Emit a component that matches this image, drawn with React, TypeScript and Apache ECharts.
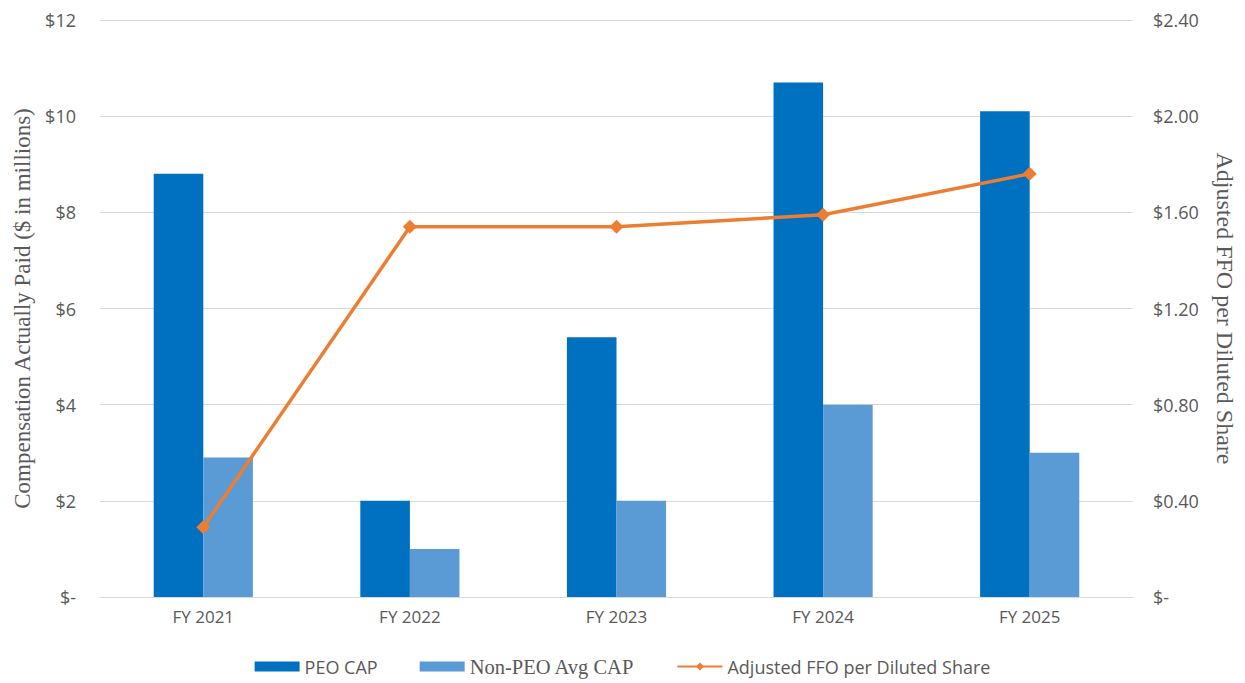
import React, { useEffect, useRef } from "react";
import * as echarts from "echarts";

const categories = ["FY 2021", "FY 2022", "FY 2023", "FY 2024", "FY 2025"];
const peoCap = [8.8, 2.0, 5.4, 10.7, 10.1];
const nonPeoCap = [2.9, 1.0, 2.0, 4.0, 3.0];
const ffoPerShare = [0.29, 1.54, 1.54, 1.59, 1.76];

const leftAxisName = "Compensation Actually Paid ($ in millions)";
const rightAxisName = "Adjusted FFO per Diluted Share";

export default function App() {
  const ref = useRef<HTMLDivElement>(null);
  useEffect(() => {
    if (!ref.current) return;
    const chart = echarts.init(ref.current, null, { renderer: "svg" });
    const labelColor = "#595959";
    const tickFont = "'Open Sans', 'Noto Sans', sans-serif";
    const serifFont = "'Liberation Serif', 'DejaVu Serif', serif";
    chart.setOption({
      animation: false,
      backgroundColor: "#ffffff",
      grid: { left: 100, right: 105, top: 20, bottom: 86, containLabel: false },
      legend: {
        top: 651,
        left: "center",
        itemWidth: 45,
        itemHeight: 10,
        itemGap: 42,
        formatter: (name: string) =>
          name === "Non-PEO Avg CAP" ? "{s|" + name + "}" : "{n|" + name + "}",
        textStyle: {
          color: labelColor,
          fontSize: 18,
          fontFamily: tickFont,
          rich: {
            n: { color: labelColor, fontSize: 18, fontFamily: tickFont },
            s: { color: labelColor, fontSize: 20.5, fontFamily: serifFont },
          },
        },
        data: [
          { name: "PEO CAP", icon: "rect" },
          { name: "Non-PEO Avg CAP", icon: "rect" },
          { name: "Adjusted FFO per Diluted Share" },
        ],
      },
      xAxis: {
        type: "category",
        data: categories,
        axisLine: { show: true, lineStyle: { color: "#d9d9d9" } },
        axisTick: { show: false },
        axisLabel: { color: labelColor, fontSize: 17, fontFamily: tickFont, margin: 11 },
      },
      yAxis: [
        {
          type: "value",
          min: 0,
          max: 12,
          interval: 2,
          name: leftAxisName,
          nameLocation: "middle",
          nameGap: 65,
          nameRotate: 90,
          nameTextStyle: { color: labelColor, fontSize: 23, fontFamily: serifFont },
          axisLine: { show: false },
          axisTick: { show: false },
          splitLine: { lineStyle: { color: "#d9d9d9", width: 1 } },
          axisLabel: {
            color: labelColor,
            fontSize: 18,
            fontFamily: tickFont,
            margin: 24,
            formatter: (v: number) => (v === 0 ? "$-" : "$" + v),
          },
        },
        {
          type: "value",
          min: 0,
          max: 2.4,
          interval: 0.4,
          position: "right",
          name: rightAxisName,
          nameLocation: "middle",
          nameGap: 80,
          nameRotate: -90,
          nameTextStyle: { color: labelColor, fontSize: 24, fontFamily: serifFont },
          axisLine: { show: false },
          axisTick: { show: false },
          splitLine: { show: false },
          axisLabel: {
            color: labelColor,
            fontSize: 18,
            fontFamily: tickFont,
            margin: 20,
            formatter: (v: number) => (v === 0 ? "$-" : "$" + v.toFixed(2)),
          },
        },
      ],
      series: [
        {
          name: "PEO CAP",
          type: "bar",
          data: peoCap,
          barGap: "0%",
          barCategoryGap: "52%",
          itemStyle: { color: "#0070C0" },
        },
        {
          name: "Non-PEO Avg CAP",
          type: "bar",
          data: nonPeoCap,
          itemStyle: { color: "#5B9BD5" },
        },
        {
          name: "Adjusted FFO per Diluted Share",
          type: "line",
          yAxisIndex: 1,
          data: ffoPerShare,
          symbol: "diamond",
          symbolSize: 14,
          lineStyle: { color: "#ED7D31", width: 3.5 },
          itemStyle: { color: "#ED7D31" },
        },
      ],
    });
    return () => chart.dispose();
  }, []);
  return (
    <div
      ref={ref}
      style={{ position: "fixed", left: 0, top: 0, width: 1245, height: 683, background: "#fff" }}
    />
  );
}
